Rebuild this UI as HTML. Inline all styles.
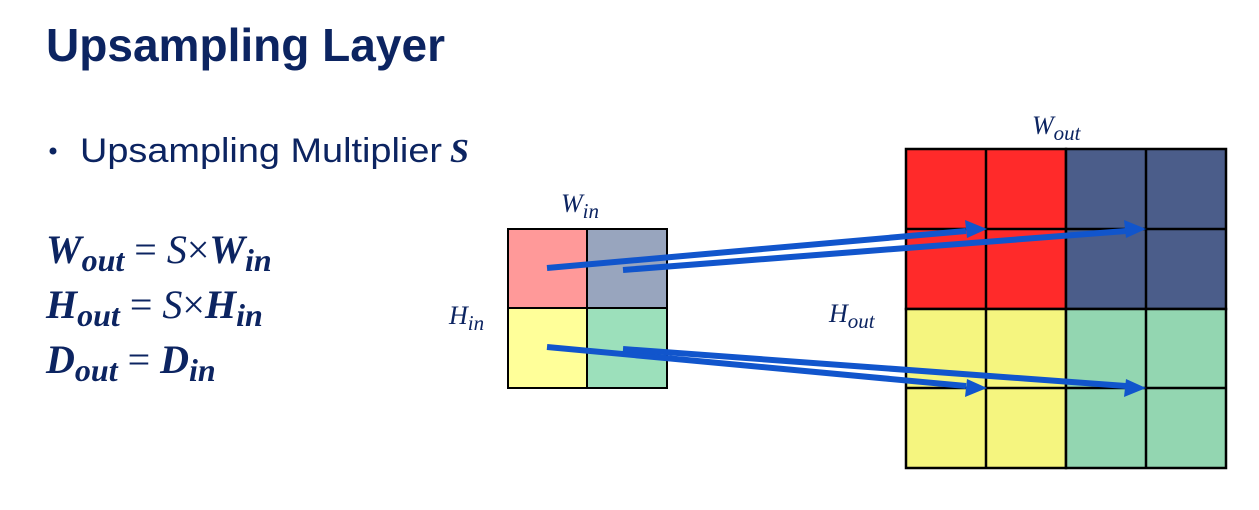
<!DOCTYPE html>
<html><head><meta charset="utf-8"><style>
html,body{margin:0;padding:0;background:#fff;width:1259px;height:510px;overflow:hidden}
svg{display:block}
.t{font-family:"Liberation Sans",sans-serif;fill:#0c2461}
.m{font-family:"Liberation Serif",serif;font-style:italic;fill:#0c2461}
.b{font-weight:bold}
</style></head><body>
<svg width="1259" height="510" viewBox="0 0 1259 510" xmlns="http://www.w3.org/2000/svg">
<text class="t b" x="46" y="61" font-size="46" textLength="399" lengthAdjust="spacingAndGlyphs">Upsampling Layer</text>
<circle cx="53" cy="151" r="3.5" fill="#0c2461"/>
<text class="t" x="80" y="162" font-size="34" textLength="362" lengthAdjust="spacingAndGlyphs">Upsampling Multiplier</text>
<text class="m b" x="450" y="162" font-size="34">S</text>

<g class="m" font-size="40">
<text x="46" y="263"><tspan class="b">W</tspan><tspan class="b" font-size="32" dy="8">out</tspan><tspan dy="-8" font-style="normal"> = </tspan><tspan>S</tspan><tspan font-style="normal">×</tspan><tspan class="b">W</tspan><tspan class="b" font-size="32" dy="8">in</tspan></text>
<text x="46" y="318"><tspan class="b">H</tspan><tspan class="b" font-size="32" dy="8">out</tspan><tspan dy="-8" font-style="normal"> = </tspan><tspan>S</tspan><tspan font-style="normal">×</tspan><tspan class="b">H</tspan><tspan class="b" font-size="32" dy="8">in</tspan></text>
<text x="46" y="373"><tspan class="b">D</tspan><tspan class="b" font-size="32" dy="8">out</tspan><tspan dy="-8" font-style="normal"> = </tspan><tspan class="b">D</tspan><tspan class="b" font-size="32" dy="8">in</tspan></text>
</g>

<g class="m" font-size="26">
<text x="561" y="212">W<tspan font-size="21" dy="6">in</tspan></text>
<text x="449" y="324">H<tspan font-size="21" dy="6">in</tspan></text>
<text x="1032" y="134">W<tspan font-size="21" dy="6">out</tspan></text>
<text x="829" y="322">H<tspan font-size="21" dy="6">out</tspan></text>
</g>

<!-- input grid -->
<g stroke="#000" stroke-width="2">
<rect x="508" y="229" width="79" height="79" fill="#ff9999"/>
<rect x="587" y="229" width="80" height="79" fill="#98a5be"/>
<rect x="508" y="308" width="79" height="80" fill="#ffff99"/>
<rect x="587" y="308" width="80" height="80" fill="#9ce0bb"/>
</g>
<!-- output grid -->
<g stroke="#000" stroke-width="2.5">
<rect x="906" y="149" width="160" height="160" fill="#ff2a2a"/>
<rect x="1066" y="149" width="160" height="160" fill="#4b5d8a"/>
<rect x="906" y="309" width="160" height="159" fill="#f5f57f"/>
<rect x="1066" y="309" width="160" height="159" fill="#93d6b1"/>
<line x1="986" y1="149" x2="986" y2="468"/>
<line x1="1146" y1="149" x2="1146" y2="468"/>
<line x1="906" y1="229" x2="1226" y2="229"/>
<line x1="906" y1="388" x2="1226" y2="388"/>
</g>
<!-- arrows -->
<g stroke="#1155cc" stroke-width="6" fill="#1155cc">
<line x1="547" y1="268" x2="966" y2="231"/>
<line x1="623" y1="270" x2="1126" y2="231"/>
<line x1="547" y1="347" x2="966" y2="386"/>
<line x1="623" y1="349" x2="1126" y2="386"/>
</g>
<g fill="#1155cc">
<polygon points="987,229 965,220 967,238"/>
<polygon points="1146,229 1124,220 1126,238"/>
<polygon points="987,388 967,379 965,397"/>
<polygon points="1146,388 1126,379 1124,397"/>
</g>
</svg>
</body></html>
